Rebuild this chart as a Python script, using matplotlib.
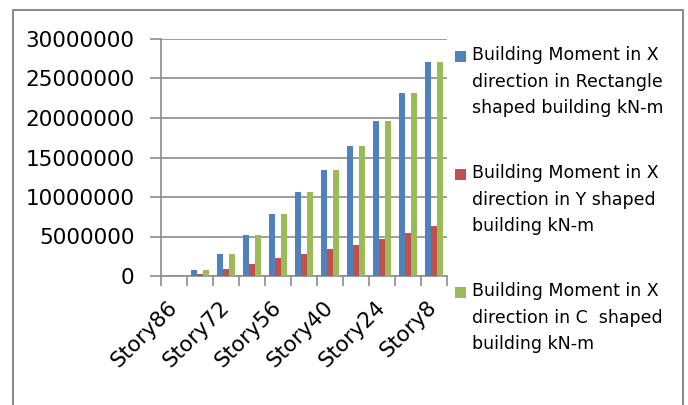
import matplotlib
matplotlib.use("Agg")
import matplotlib.pyplot as plt
import numpy as np
from matplotlib.patches import Rectangle
from matplotlib.lines import Line2D

stories = ["Story86", "Story80", "Story72", "Story64", "Story56", "Story48",
           "Story40", "Story32", "Story24", "Story16", "Story8"]
moment_rect = [0, 800000, 2750000, 5200000, 7860000, 10600000,
               13400000, 16400000, 19600000, 23200000, 27130000]
moment_y = [0, 200000, 890000, 1560000, 2240000, 2830000,
            3380000, 3970000, 4650000, 5410000, 6380000]
moment_c = [0, 800000, 2750000, 5200000, 7860000, 10600000,
            13400000, 16400000, 19600000, 23200000, 27130000]

series_labels = [
    "Building Moment in X\ndirection in Rectangle\nshaped building kN-m",
    "Building Moment in X\ndirection in Y shaped\nbuilding kN-m",
    "Building Moment in X\ndirection in C  shaped\nbuilding kN-m",
]
colors = ["#4F81BD", "#C0504D", "#9BBB59"]
grid_col = "#8C8C8C"

plt.rcParams["font.family"] = ["DejaVu Sans"]

W, H = 688, 405
fig = plt.figure(figsize=(W / 100, H / 100), dpi=100)
ax = fig.add_axes([161 / W, 1 - 276 / H, (447 - 161) / W, (276 - 39) / H])

x = np.arange(len(stories))
bw = 0.22
for k, vals in enumerate([moment_rect, moment_y, moment_c]):
    ax.bar(x + (k - 1) * bw, vals, width=bw, color=colors[k], linewidth=0, zorder=3)

ax.set_xlim(-0.5, len(stories) - 0.5)
ax.set_ylim(0, 30000000)
ax.set_yticks(np.arange(0, 30000001, 5000000))
ax.set_yticklabels([f"{v:d}" for v in range(0, 30000001, 5000000)], fontsize=15.5)
ax.yaxis.grid(True, color=grid_col, linewidth=1.2, zorder=0)
ax.tick_params(axis="y", length=8, width=1.2, color=grid_col, pad=11)

# category labels every other story, boundary ticks between categories
ax.set_xticks(x)
ax.set_xticklabels([s if i % 2 == 0 else "" for i, s in enumerate(stories)],
                   rotation=45, ha="right", va="center", rotation_mode="anchor",
                   fontsize=15.5)
ax.tick_params(axis="x", which="major", length=0, pad=20)
ax.set_xticks(np.arange(-0.5, len(stories), 1.0), minor=True)
ax.tick_params(axis="x", which="minor", length=7, width=1.2, color=grid_col)

for side in ["top", "right"]:
    ax.spines[side].set_visible(False)
for side in ["left", "bottom"]:
    ax.spines[side].set_color(grid_col)
    ax.spines[side].set_linewidth(1.2)

# legend
leg_y = [57, 175, 293]
for k in range(3):
    fig.patches.append(Rectangle((455 / W, 1 - (leg_y[k] + 5) / H), 11 / W, 11 / H,
                                 transform=fig.transFigure, facecolor=colors[k],
                                 edgecolor="none"))
    fig.text(472 / W, 1 - (leg_y[k] - 11) / H, series_labels[k], fontsize=12.5,
             va="top", ha="left", linespacing=1.62)

# outer chart frame (open at the bottom)
fx0, fx1, fy = 12.5 / W, 683 / W, 1 - 10 / H
frame = Line2D([fx0, fx0, fx1, fx1], [-0.1, fy, fy, -0.1], transform=fig.transFigure,
               color="#8C8C8C", linewidth=1.5)
fig.lines.append(frame)

fig.savefig("out.png", dpi=100)
